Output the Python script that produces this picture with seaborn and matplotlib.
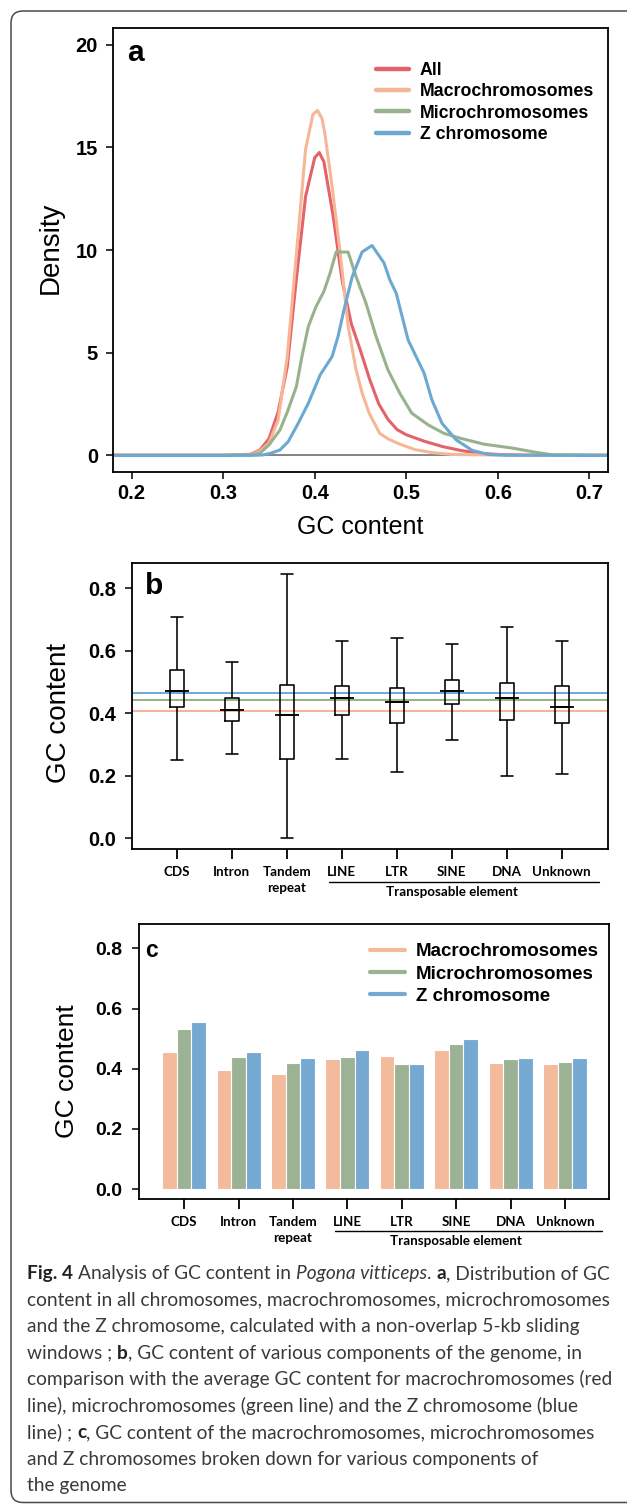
import numpy as np
import pandas as pd
import matplotlib
matplotlib.use("Agg")
import matplotlib.pyplot as plt
import matplotlib.transforms as mtransforms
from matplotlib.lines import Line2D
from matplotlib.patches import FancyBboxPatch
import seaborn as sns

# ---------------- data ----------------
series_names = ["All", "Macrochromosomes", "Microchromosomes", "Z chromosome"]

all_gc = [0.18, 0.30, 0.33, 0.34, 0.35, 0.36, 0.37, 0.38, 0.39, 0.40, 0.405, 0.41, 0.415, 0.42,
          0.43, 0.44, 0.45, 0.46, 0.47, 0.48, 0.49, 0.50, 0.52, 0.54, 0.56, 0.58, 0.60, 0.63, 0.72]
all_density = [0, 0, 0.05, 0.25, 0.8, 2.1, 4.3, 8.6, 12.6, 14.5, 14.75, 14.3, 13.0, 11.7,
               8.5, 6.4, 5.1, 3.7, 2.5, 1.75, 1.25, 1.0, 0.68, 0.42, 0.23, 0.10, 0.04, 0.01, 0]

macro_gc = [0.18, 0.30, 0.33, 0.34, 0.35, 0.36, 0.37, 0.38, 0.39, 0.398, 0.403, 0.408, 0.411,
            0.419, 0.428, 0.4365, 0.445, 0.452, 0.46, 0.471, 0.48, 0.493, 0.51, 0.53, 0.55, 0.60, 0.69]
macro_density = [0, 0, 0.02, 0.2, 0.6, 1.7, 4.8, 9.8, 14.9, 16.6, 16.8, 16.4, 15.7,
                 13.1, 9.8, 6.3, 4.2, 3.0, 2.0, 1.07, 0.8, 0.54, 0.27, 0.12, 0.04, 0.01, 0]

micro_gc = [0.18, 0.30, 0.33, 0.34, 0.35, 0.362, 0.37, 0.38, 0.386, 0.393, 0.4015, 0.41, 0.417,
            0.4234, 0.4365, 0.4452, 0.456, 0.467, 0.48, 0.493, 0.506, 0.524, 0.541, 0.559, 0.585,
            0.616, 0.642, 0.66, 0.72]
micro_density = [0, 0, 0.01, 0.1, 0.5, 1.23, 2.1, 3.35, 4.8, 6.27, 7.25, 7.98, 8.9,
                 9.9, 9.9, 8.7, 7.41, 5.79, 4.16, 3.02, 2.05, 1.48, 1.07, 0.83, 0.54,
                 0.35, 0.14, 0.02, 0]

z_gc = [0.18, 0.30, 0.335, 0.344, 0.352, 0.362, 0.371, 0.382, 0.393, 0.406, 0.419, 0.4255, 0.432,
        0.441, 0.4517, 0.4626, 0.4757, 0.482, 0.489, 0.502, 0.5195, 0.528, 0.539, 0.5545, 0.572,
        0.5895, 0.61, 0.72]
z_density = [0, 0, 0, 0.02, 0.1, 0.26, 0.66, 1.56, 2.53, 3.92, 4.81, 5.79, 7.09,
             8.7, 9.9, 10.22, 9.37, 8.55, 7.9, 5.62, 4.0, 2.7, 1.56, 0.75, 0.24,
             0.04, 0, 0]

components = ["CDS", "Intron", "Tandem\nrepeat", "LINE", "LTR", "SINE", "DNA", "Unknown"]
te_label = "Transposable element"

box_min = [0.251, 0.269, 0.000, 0.255, 0.211, 0.315, 0.200, 0.207]
box_q1 = [0.420, 0.376, 0.254, 0.394, 0.370, 0.429, 0.380, 0.369]
box_median = [0.470, 0.410, 0.394, 0.449, 0.437, 0.470, 0.449, 0.420]
box_q3 = [0.538, 0.449, 0.492, 0.488, 0.481, 0.507, 0.498, 0.486]
box_max = [0.708, 0.564, 0.847, 0.630, 0.640, 0.622, 0.677, 0.632]

avg_macro = 0.408
avg_micro = 0.442
avg_z = 0.464

groups = ["Macrochromosomes", "Microchromosomes", "Z chromosome"]
macro_comp_gc = [0.455, 0.395, 0.382, 0.432, 0.441, 0.462, 0.418, 0.416]
micro_comp_gc = [0.533, 0.439, 0.419, 0.438, 0.415, 0.482, 0.432, 0.421]
z_comp_gc = [0.556, 0.454, 0.435, 0.461, 0.415, 0.500, 0.434, 0.434]

a_xticks = [0.2, 0.3, 0.4, 0.5, 0.6, 0.7]
a_yticks = [0, 5, 10, 15, 20]
gc_yticks = [0.0, 0.2, 0.4, 0.6, 0.8]
gc_yticklabels = ["0.0", "0.2", "0.4", "0.6", "0.8"]

caption_lines = [
    [("Fig. 4", "b", False), ("Analysis of GC content in", "r", True), ("Pogona vitticeps", "i", True),
     (".", "r", False), ("a", "b", True), (", Distribution of GC", "r", False)],
    [("content in all chromosomes, macrochromosomes, microchromosomes", "r", False)],
    [("and the Z chromosome, calculated with a non-overlap 5-kb sliding", "r", False)],
    [("windows ;", "r", False), ("b", "b", True), (", GC content of various components of the genome, in", "r", False)],
    [("comparison with the average GC content for macrochromosomes (red", "r", False)],
    [("line), microchromosomes (green line) and the Z chromosome (blue", "r", False)],
    [("line) ;", "r", False), ("c", "b", True), (", GC content of the macrochromosomes, microchromosomes", "r", False)],
    [("and Z chromosomes broken down for various components of", "r", False)],
    [("the genome", "r", False)],
]

# ---------------- style ----------------
sns.set_style("ticks")
plt.rcParams["font.family"] = ["Liberation Sans", "DejaVu Sans"]
plt.rcParams["axes.linewidth"] = 1.3
for k in ("text.color", "axes.labelcolor", "xtick.color", "ytick.color", "axes.edgecolor"):
    plt.rcParams[k] = "black"

W, H = 627, 1504
fig = plt.figure(figsize=(W / 100, H / 100), dpi=100)

line_colors = {"All": "#E4636A", "Macrochromosomes": "#F6B796",
               "Microchromosomes": "#98B28D", "Z chromosome": "#6BA8D2"}
bar_colors = {"Macrochromosomes": "#F4BA9C", "Microchromosomes": "#9BB394", "Z chromosome": "#76A9D2"}
cat_font = ["Lato", "DejaVu Sans"]


def axes_px(left, top, right, bottom):
    return fig.add_axes([left / W, 1 - bottom / H, (right - left) / W, (bottom - top) / H])


def fig_text(x, y, s, **kw):
    return fig.text(x / W, 1 - y / H, s, **kw)


def style_ticks(ax, size):
    for lbl in ax.get_xticklabels() + ax.get_yticklabels():
        lbl.set_fontweight("bold")
        lbl.set_fontsize(size)


# ---------------- panel a ----------------
axa = axes_px(113.3, 28.3, 608.3, 471.7)
frames = []
for name, xs, ds in [("All", all_gc, all_density), ("Macrochromosomes", macro_gc, macro_density),
                     ("Microchromosomes", micro_gc, micro_density), ("Z chromosome", z_gc, z_density)]:
    frames.append(pd.DataFrame({"gc": xs, "density": ds, "series": name}))
dfa = pd.concat(frames, ignore_index=True)
axa.axhline(0, color="#6e6e6e", lw=1.2, zorder=1)
sns.lineplot(data=dfa, x="gc", y="density", hue="series", hue_order=series_names,
             palette=line_colors, sort=False, estimator=None, linewidth=2.2,
             legend=False, ax=axa, zorder=2)
axa.set_xlim(0.18, 0.7207)
axa.set_ylim(-0.8, 20.8)
axa.set_xticks(a_xticks)
axa.set_xticklabels([f"{v:.1f}" for v in a_xticks])
axa.set_yticks(a_yticks)
axa.set_yticklabels([str(v) for v in a_yticks])
axa.tick_params(axis="both", length=5, width=1.1, direction="out")
axa.tick_params(axis="y", pad=6)
axa.tick_params(axis="x", pad=3.6)
style_ticks(axa, 14.5)
axa.set_xlabel("GC content", fontsize=18)
axa.set_ylabel("Density", fontsize=20)
axa.xaxis.set_label_coords(0.498, -0.097)
axa.yaxis.set_label_coords(-0.0996, 0.505)
handles = [Line2D([0], [0], color=line_colors[n], lw=3.2) for n in series_names]
axa.legend(handles, series_names, loc="upper left", bbox_to_anchor=(0.5307, 0.924),
           frameon=False, borderpad=0, borderaxespad=0, handlelength=1.85,
           handletextpad=0.62, labelspacing=0.24, prop={"weight": "bold", "size": 12.8})
fig_text(126.7, 60.7, "a", fontsize=21.5, fontweight="bold", ha="left", va="baseline")

# ---------------- panel b ----------------
axb = axes_px(132.3, 562.7, 608.0, 849.3)
rows = []
for i, comp in enumerate(components):
    for v in (box_min[i], box_q1[i], box_median[i], box_q3[i], box_max[i]):
        rows.append({"component": comp, "gc": v})
dfb = pd.DataFrame(rows)
axb.axhline(avg_z, color="#6FA8D6", lw=1.4, zorder=1)
axb.axhline(avg_micro, color="#93B486", lw=1.4, zorder=1)
axb.axhline(avg_macro, color="#F5B396", lw=1.4, zorder=1)
sns.boxplot(data=dfb, x="component", y="gc", order=components, whis=(0, 100), width=0.25,
            fill=False, color="black", linewidth=1.15, capwidths=0.21, ax=axb)
sns.pointplot(x=components, y=box_median, order=components, color="black", marker="_",
              markersize=17, markeredgewidth=1.3, linestyle="none", errorbar=None, ax=axb)
axb.set_xlim(-0.81, 7.84)
axb.set_ylim(-0.035, 0.882)
axb.set_yticks(gc_yticks)
axb.set_yticklabels(gc_yticklabels)
axb.tick_params(axis="y", length=5.3, width=1.1, pad=6)
axb.set_xticks(range(len(components)))
axb.set_xticklabels(components, fontfamily=cat_font, fontweight="bold", fontsize=9.6, linespacing=1.45)
axb.tick_params(axis="x", length=7, width=1.3, pad=5)
for lbl in axb.get_yticklabels():
    lbl.set_fontweight("bold")
    lbl.set_fontsize(14.5)
axb.set_xlabel("")
axb.set_ylabel("GC content", fontsize=20)
axb.yaxis.set_label_coords(-0.1268, 0.474)
fig_text(145, 594, "b", fontsize=21.5, fontweight="bold", ha="left", va="baseline")

# ---------------- panel c ----------------
axc = axes_px(139, 924, 609, 1199)
rows = []
for i, comp in enumerate(components):
    for g, vals in zip(groups, (macro_comp_gc, micro_comp_gc, z_comp_gc)):
        rows.append({"component": comp, "group": g, "gc": vals[i]})
dfc = pd.DataFrame(rows)
sns.barplot(data=dfc, x="component", y="gc", hue="group", order=components, hue_order=groups,
            palette=bar_colors, width=0.81, saturation=1, edgecolor="white", linewidth=0.8,
            legend=False, ax=axc)
axc.set_xlim(-0.83, 7.81)
axc.set_ylim(-0.033, 0.881)
axc.set_yticks(gc_yticks)
axc.set_yticklabels(gc_yticklabels)
axc.tick_params(axis="y", length=5.3, width=1.1, pad=6.5)
axc.set_xticks(range(len(components)))
axc.set_xticklabels(components, fontfamily=cat_font, fontweight="bold", fontsize=9.6, linespacing=1.45)
axc.tick_params(axis="x", length=7, width=1.3, pad=5)
for lbl in axc.get_yticklabels():
    lbl.set_fontweight("bold")
    lbl.set_fontsize(14)
axc.set_xlabel("")
axc.set_ylabel("GC content", fontsize=19)
axc.yaxis.set_label_coords(-0.1266, 0.4655)
handles = [Line2D([0], [0], color=bar_colors[g], lw=3.0) for g in groups]
axc.legend(handles, groups, loc="upper left", bbox_to_anchor=(0.4915, 0.93),
           frameon=False, borderpad=0, borderaxespad=0, handlelength=1.87,
           handletextpad=0.59, labelspacing=0.27, prop={"weight": "bold", "size": 13.5})
fig_text(145, 956.7, "c", fontsize=16.5, fontweight="bold", ha="left", va="baseline")

# transposable element bracket under b and c
for ax, yline, ytext in ((axb, -0.1151, -0.1507), (axc, -0.1153, -0.1516)):
    tr = mtransforms.blended_transform_factory(ax.transData, ax.transAxes)
    ax.add_line(Line2D([2.77, 7.68], [yline, yline], transform=tr, color="black", lw=1.0, clip_on=False))
    ax.text(5, ytext, te_label, transform=tr, ha="center", va="center",
            fontfamily=cat_font, fontweight="bold", fontsize=9.6, clip_on=False)

# ---------------- caption ----------------
cap_font = ["Lato", "DejaVu Sans"]
cap_size = 13.8
cap_color = "#3a3a3a"
renderer = fig.canvas.get_renderer()
t1 = fig.text(0, 0, "n n", fontsize=cap_size, family=cap_font)
t2 = fig.text(0, 0, "nn", fontsize=cap_size, family=cap_font)
space_w = t1.get_window_extent(renderer).width - t2.get_window_extent(renderer).width
t1.remove()
t2.remove()
baseline0 = 1279.3
line_step = 26.5
for li, runs in enumerate(caption_lines):
    x = 27.0
    yb = baseline0 + li * line_step
    for text, st, sp in runs:
        if sp:
            x += space_w
        kw = dict(fontsize=cap_size, family=cap_font, color=cap_color, ha="left", va="baseline")
        if st == "b":
            kw["fontweight"] = "bold"
            kw["color"] = "#222222"
        elif st == "i":
            kw["fontstyle"] = "italic"
        t = fig_text(x, yb, text, **kw)
        x += t.get_window_extent(renderer).width

# ---------------- frame ----------------
frame = FancyBboxPatch((11, 1.5), 700, 1504 - 11 - 1.5, boxstyle="round,pad=0,rounding_size=12",
                       transform=mtransforms.IdentityTransform(), fill=False,
                       edgecolor="#4a4a4a", linewidth=1.1)
fig.add_artist(frame)

fig.savefig("out.png", dpi=100)
